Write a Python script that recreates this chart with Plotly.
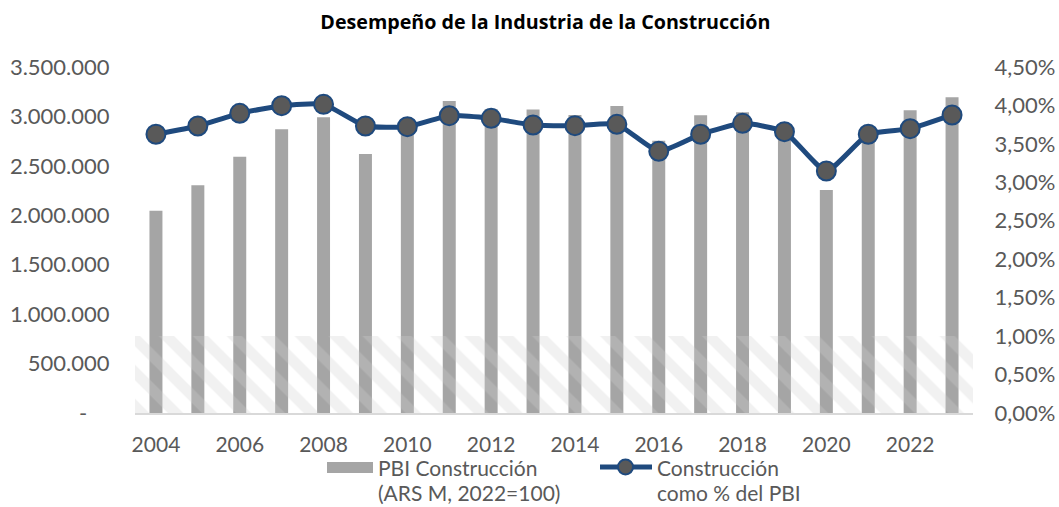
import plotly.graph_objects as go

years = list(range(2004, 2024))
pbi_construccion = [2046000, 2303000, 2593000, 2870000, 2991000, 2620000, 2870000,
                    3156000, 3075000, 3070000, 3015000, 3105000, 2755000, 3011000,
                    3042000, 2890000, 2256000, 2790000, 3062000, 3193000]
pct_pbi = [3.625, 3.733, 3.897, 3.997, 4.014, 3.733, 3.724, 3.867, 3.832, 3.746,
           3.737, 3.754, 3.403, 3.625, 3.767, 3.659, 3.147, 3.625, 3.698, 3.876]

left_tickvals = [0, 500000, 1000000, 1500000, 2000000, 2500000, 3000000, 3500000]
left_ticktext = ["-\u00a0\u00a0\u00a0\u00a0", "500.000", "1.000.000", "1.500.000",
                 "2.000.000", "2.500.000", "3.000.000", "3.500.000"]
right_tickvals = [0, 0.5, 1.0, 1.5, 2.0, 2.5, 3.0, 3.5, 4.0, 4.5]
right_ticktext = ["0,00%", "0,50%", "1,00%", "1,50%", "2,00%", "2,50%",
                  "3,00%", "3,50%", "4,00%", "4,50%"]
x_tickvals = list(range(2004, 2024, 2))

legend_bar_lines = ["PBI Construcción", "(ARS M, 2022=100)"]
legend_line_lines = ["Construcción", "como % del PBI"]
title_text = "<b>Desempeño de la Industria de la Construcción</b>"

FONT = "Lato, 'Open Sans', sans-serif"
GRAY = "#595959"
BAR = "#A5A5A5"
NAVY = "#1F4A7E"

# plot-area geometry (pixels)
L, R, T, B = 135, 86, 67, 94
W, H = 1059, 507
PW, PH = W - L - R, H - T - B


def px(xp):
    return (xp - L) / PW


def py(yp):
    return (H - B - yp) / PH


fig = go.Figure()

# decorative hatched shadow band at the bottom of the plot area
fig.add_trace(go.Bar(
    x=[0.5], y=[780000], width=[1.0], xaxis="x2", yaxis="y",
    marker=dict(color="rgba(255,255,255,0)", line=dict(width=0),
                pattern=dict(shape="\\", fgcolor="#cfcfcf", bgcolor="rgba(255,255,255,0)",
                             size=24, solidity=0.45, fgopacity=0.3)),
    showlegend=False, hoverinfo="skip"))

fig.add_trace(go.Bar(
    x=years, y=pbi_construccion, name="PBI Construcción",
    marker=dict(color=BAR, line=dict(width=0)), yaxis="y", xaxis="x",
    showlegend=False))

fig.add_trace(go.Scatter(
    x=years, y=pct_pbi, name="Construcción como % del PBI", yaxis="y2", xaxis="x",
    mode="lines+markers",
    line=dict(color=NAVY, width=5, shape="spline", smoothing=0.5),
    marker=dict(size=19, color="#595959", line=dict(color=NAVY, width=2)),
    showlegend=False))

shapes = [
    # legend: bar symbol
    dict(type="rect", xref="paper", yref="paper",
         x0=px(327), x1=px(373), y0=py(473), y1=py(462),
         fillcolor=BAR, line=dict(width=0)),
    # legend: line symbol
    dict(type="line", xref="paper", yref="paper",
         x0=px(600), x1=px(652), y0=py(467), y1=py(467),
         line=dict(color=NAVY, width=5)),
    dict(type="circle", xref="paper", yref="paper",
         x0=px(618), x1=px(633), y0=py(474.5), y1=py(459.5),
         fillcolor="#595959", line=dict(color=NAVY, width=2)),
]

annotations = []
for i, (t1, t2) in enumerate(zip(legend_bar_lines, legend_line_lines)):
    yy = py(467 + 26 * i)
    annotations.append(dict(text=t1, xref="paper", yref="paper", x=px(377), y=yy,
                            xanchor="left", yanchor="middle", showarrow=False,
                            borderpad=0,
                            font=dict(family=FONT, size=21, color=GRAY)))
    annotations.append(dict(text=t2, xref="paper", yref="paper", x=px(656), y=yy,
                            xanchor="left", yanchor="middle", showarrow=False,
                            borderpad=0,
                            font=dict(family=FONT, size=21, color=GRAY)))

fig.update_layout(
    width=W, height=H,
    paper_bgcolor="white", plot_bgcolor="white",
    margin=dict(l=L, r=R, t=T, b=B, autoexpand=False),
    font=dict(family=FONT, size=20, color=GRAY),
    title=dict(text=title_text, x=0.515, xanchor="center",
               y=1 - 22 / H, yanchor="middle", yref="container",
               font=dict(family="'Open Sans', sans-serif", size=19.7, color="black")),
    bargap=0.69,
    barmode="overlay",
    showlegend=False,
    shapes=shapes,
    annotations=annotations,
    xaxis=dict(range=[2003.5, 2023.5], tickvals=x_tickvals,
               showgrid=False, zeroline=False, showline=True, linecolor="#D9D9D9",
               linewidth=2, ticks="outside", ticklen=12, tickcolor="rgba(0,0,0,0)",
               tickfont=dict(family=FONT, size=21, color=GRAY)),
    xaxis2=dict(range=[0, 1], overlaying="x", visible=False),
    yaxis=dict(range=[0, 3500000], tickvals=left_tickvals, ticktext=left_ticktext,
               showgrid=False, zeroline=False, showline=False,
               ticks="outside", ticklen=20, tickcolor="rgba(0,0,0,0)",
               tickfont=dict(family=FONT, size=22, color=GRAY)),
    yaxis2=dict(range=[0, 4.5], tickvals=right_tickvals, ticktext=right_ticktext,
                overlaying="y", side="right",
                showgrid=False, zeroline=False, showline=False,
                ticks="outside", ticklen=16, tickcolor="rgba(0,0,0,0)",
                tickfont=dict(family=FONT, size=22, color=GRAY)),
)

fig.write_html("out.html",
               config={"displayModeBar": False},
               post_script="document.body.style.margin='0';document.body.style.overflow='hidden';")
